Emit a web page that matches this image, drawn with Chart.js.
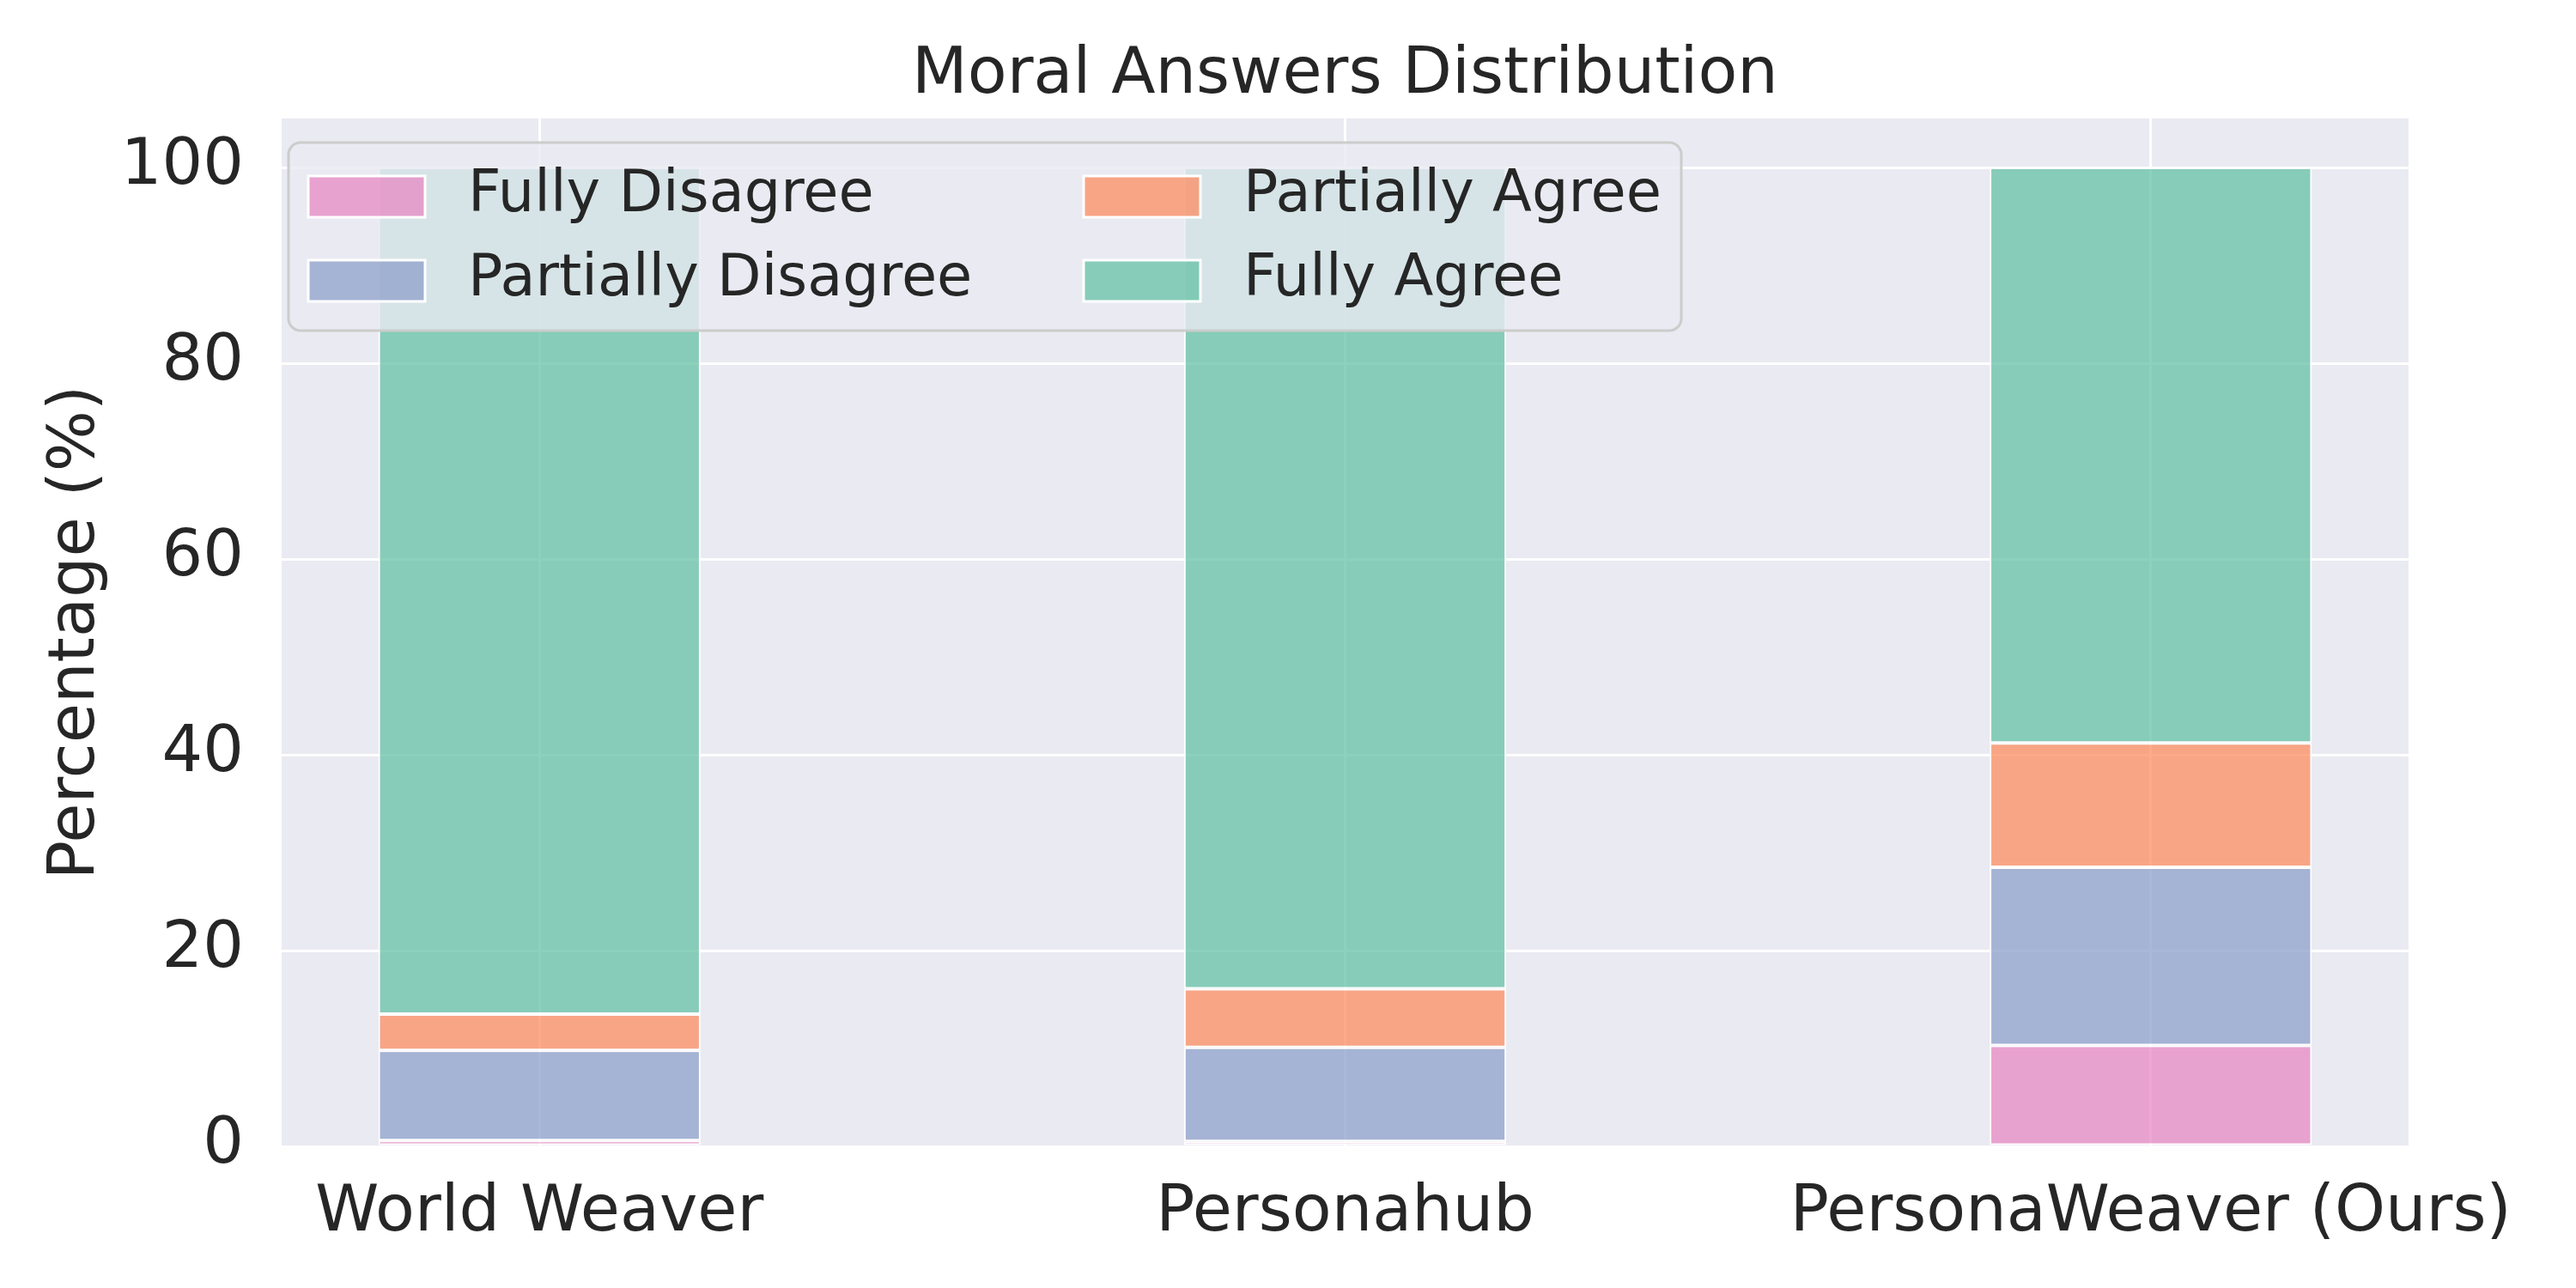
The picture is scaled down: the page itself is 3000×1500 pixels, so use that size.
<!DOCTYPE html>
<html>
<head>
<meta charset="utf-8">
<script src="https://cdn.jsdelivr.net/npm/chart.js@4.4.1/dist/chart.umd.min.js"></script>
<style>
  html, body { margin: 0; padding: 0; background: #ffffff; }
  #wrap { width: 3000px; height: 1500px; }
</style>
</head>
<body>
<div id="wrap"><canvas id="moralChart" width="3000" height="1500"></canvas></div>
<script>
// categories and stacked shares (%)
const categories = ['World Weaver', 'Personahub', 'PersonaWeaver (Ours)'];
const fullyDisagree = [0.6, 0.5, 10.3];
const partiallyDisagree = [9.2, 9.6, 18.2];
const partiallyAgree = [3.7, 6.0, 12.7];
const fullyAgree = [86.5, 83.9, 58.8];
const yTicks = [0, 20, 40, 60, 80, 100];

const seriesNames = ['Fully Disagree', 'Partially Disagree', 'Partially Agree', 'Fully Agree'];
const seriesData = [fullyDisagree, partiallyDisagree, partiallyAgree, fullyAgree];
// Set2 colours with alpha like the original
const seriesColors = [
  'rgba(231,138,195,0.75)',
  'rgba(141,160,203,0.75)',
  'rgba(252,141,98,0.75)',
  'rgba(102,194,165,0.75)'
];

const textColor = '#262626';
const fontFamily = '"DejaVu Sans", Verdana, sans-serif';

const datasets = seriesNames.map((name, k) => ({
  label: name,
  data: categories.map((c, i) => ({ x: i, y: seriesData[k][i] })),
  backgroundColor: seriesColors[k],
  borderColor: '#ffffff',
  borderWidth: 2,
  borderSkipped: false,
  barPercentage: 0.4,
  categoryPercentage: 1.0
}));

// grey plot background like seaborn darkgrid
const plotBackground = {
  id: 'plotBackground',
  beforeDraw(chart) {
    const { ctx, chartArea: ca } = chart;
    ctx.save();
    ctx.fillStyle = '#eaeaf2';
    ctx.fillRect(ca.left, ca.top, ca.right - ca.left, ca.bottom - ca.top);
    ctx.restore();
  }
};

// two-column legend inside the plot, top left
const boxLegend = {
  id: 'boxLegend',
  afterDatasetsDraw(chart) {
    const { ctx, chartArea: ca } = chart;
    const bx = ca.left + 8, by = ca.top + 28, bw = 1622, bh = 219, r = 14;
    ctx.save();
    ctx.beginPath();
    ctx.roundRect(bx, by, bw, bh, r);
    ctx.fillStyle = 'rgba(234,234,242,0.8)';
    ctx.fill();
    ctx.lineWidth = 3;
    ctx.strokeStyle = '#cccccc';
    ctx.stroke();

    const colX = [ca.left + 31, ca.left + 934];
    const rowY = [ca.top + 91, ca.top + 189];
    // column-major order, as matplotlib does with ncol=2
    const order = [[0, 0], [0, 1], [1, 0], [1, 1]];
    ctx.font = '67px ' + fontFamily;
    ctx.textBaseline = 'middle';
    ctx.textAlign = 'left';
    seriesNames.forEach((name, k) => {
      const [c, rw] = order[k];
      const hx = colX[c], hy = rowY[rw] - 24;
      ctx.fillStyle = seriesColors[k];
      ctx.fillRect(hx, hy, 136, 48);
      ctx.lineWidth = 3;
      ctx.strokeStyle = '#ffffff';
      ctx.strokeRect(hx, hy, 136, 48);
      ctx.fillStyle = textColor;
      ctx.fillText(name, hx + 186, rowY[rw]);
    });
    ctx.restore();
  }
};

new Chart(document.getElementById('moralChart'), {
  type: 'bar',
  data: { datasets: datasets },
  options: {
    responsive: false,
    devicePixelRatio: 1,
    animation: false,
    layout: { padding: { left: 0, right: 195, top: 0, bottom: 0 } },
    plugins: {
      legend: { display: false },
      tooltip: { enabled: false },
      title: {
        display: true,
        text: 'Moral Answers Distribution',
        color: textColor,
        fullSize: false,
        font: { family: fontFamily, size: 75, weight: 'normal' },
        padding: { top: 44, bottom: 4 }
      }
    },
    scales: {
      x: {
        type: 'linear',
        stacked: true,
        offset: false,
        bounds: 'data',
        min: -0.32,
        max: 2.32,
        afterBuildTicks(scale) {
          scale.ticks = categories.map((c, i) => ({ value: i }));
        },
        afterFit(scale) { scale.height = 165; },
        ticks: {
          color: textColor,
          font: { family: fontFamily, size: 75 },
          padding: 34,
          maxRotation: 0,
          autoSkip: false,
          callback: (v) => categories[v]
        },
        grid: { color: '#ffffff', lineWidth: 3, drawTicks: false, offset: false },
        border: { display: false }
      },
      y: {
        stacked: true,
        min: 0,
        max: 105,
        afterBuildTicks(scale) {
          scale.ticks = yTicks.map(v => ({ value: v }));
        },
        afterFit(scale) { scale.width = 328; },
        ticks: {
          color: textColor,
          font: { family: fontFamily, size: 75 },
          padding: 44
        },
        grid: { color: '#ffffff', lineWidth: 3, drawTicks: false },
        border: { display: false },
        title: {
          display: true,
          text: 'Percentage (%)',
          color: textColor,
          font: { family: fontFamily, size: 75 },
          padding: { top: 45, bottom: 0 }
        }
      }
    }
  },
  plugins: [plotBackground, boxLegend]
});
</script>
</body>
</html>
